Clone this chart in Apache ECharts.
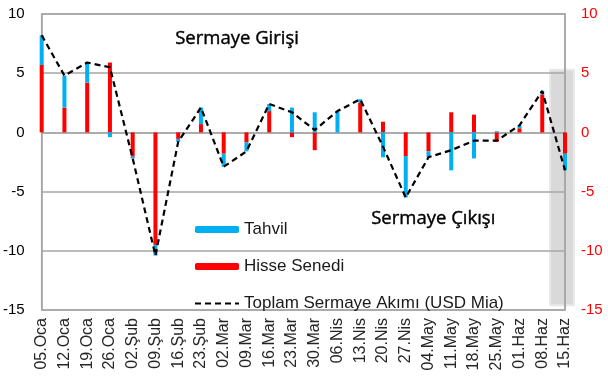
<!DOCTYPE html>
<html>
<head>
<meta charset="utf-8">
<script src="https://cdn.jsdelivr.net/npm/echarts@6/dist/echarts.min.js"></script>
<style>
html,body{margin:0;padding:0;background:#fff;}
#c{width:608px;height:383px;}
</style>
</head>
<body>
<div id="c"></div>
<script>
const categories = ['05.Oca','12.Oca','19.Oca','26.Oca','02.Şub','09.Şub','16.Şub','23.Şub','02.Mar','09.Mar','16.Mar','23.Mar','30.Mar','06.Nis','13.Nis','20.Nis','27.Nis','04.May','11.May','18.May','25.May','01.Haz','08.Haz','15.Haz'];
const hisse = [5.7, 2.1, 4.2, 5.9, -2.05, -9.5, -0.55, 0.7, -1.8, -0.85, 1.8, -0.4, -1.5, 0, 2.5, 0.9, -2.0, -1.6, 1.7, 1.5, -0.8, 0.35, 3.2, -1.8];
const tahvil = [2.5, 2.7, 1.7, -0.4, -0.15, -0.9, -0.25, 1.4, -1.1, -0.75, 0.6, 2.1, 1.7, 1.8, 0.3, -2.1, -3.5, -0.5, -3.2, -2.2, 0.1, 0.25, 0.3, -1.4];
const toplam = [8.2, 4.8, 5.9, 5.5, -2.2, -10.4, -0.8, 2.1, -2.9, -1.6, 2.4, 1.7, 0.2, 1.8, 2.8, -1.2, -5.5, -2.1, -1.5, -0.7, -0.7, 0.6, 3.5, -3.2];
const yTicks = [-15, -10, -5, 0, 5, 10];

const chart = echarts.init(document.getElementById('c'), null, {renderer: 'canvas'});
const gray = '#a6a6a6';
const option = {
  animation: false,
  backgroundColor: '#ffffff',
  grid: {left: 40, right: 43, top: 14, bottom: 73, show: true, borderColor: gray, borderWidth: 1.5, containLabel: false},
  legend: {
    orient: 'vertical', left: 189, top: 216, itemWidth: 44, itemHeight: 7, itemGap: 20,
    data: ['Tahvil', 'Hisse Senedi', {name: 'Toplam Sermaye Akımı (USD Mia)', itemStyle: {opacity: 0}}],
    textStyle: {fontFamily: 'Liberation Sans, Arial', fontSize: 17, color: '#1a1a1a'},
    selectedMode: false
  },
  xAxis: {
    type: 'category', data: categories, boundaryGap: false,
    axisLine: {show: true, lineStyle: {color: gray, width: 1.5}},
    axisTick: {show: false},
    axisLabel: {rotate: 90, interval: 0, margin: 8, fontFamily: 'Liberation Sans, Arial', fontSize: 16, color: '#262626'},
    splitLine: {show: false}
  },
  yAxis: [
    {type: 'value', min: yTicks[0], max: yTicks[yTicks.length-1], interval: 5,
     axisLine: {show: true, lineStyle: {color: gray, width: 1.5}}, axisTick: {show: false},
     axisLabel: {margin: 17, fontFamily: 'Liberation Sans, Arial', fontSize: 15, color: '#000'},
     splitLine: {show: true, lineStyle: {color: gray, width: 1.5}}},
    {type: 'value', min: yTicks[0], max: yTicks[yTicks.length-1], interval: 5, position: 'right',
     axisLine: {show: true, lineStyle: {color: gray, width: 1.5}}, axisTick: {show: false},
     axisLabel: {margin: 16, fontFamily: 'Liberation Sans, Arial', fontSize: 15, color: '#ff0000'},
     splitLine: {show: false}}
  ],
  series: [
    {name: 'Hisse Senedi', type: 'bar', stack: 'a', data: hisse, barWidth: 4, itemStyle: {color: '#ff0000'}, z: 3},
    {name: 'Tahvil', type: 'bar', stack: 'a', data: tahvil, barWidth: 4, itemStyle: {color: '#00b0f0'}, z: 3},
    {name: 'Toplam Sermaye Akımı (USD Mia)', type: 'line', data: toplam, symbol: 'none', z: 4,
     lineStyle: {color: '#000', width: 2.2, type: [6, 4]}, itemStyle: {color: '#000'}}
  ]
};
chart.setOption(option);

// shaded highlight around the last week + annotation texts
const pLast = chart.convertToPixel({xAxisIndex: 0, yAxisIndex: 0}, [categories.length - 1, 5.3]);
const pBot = chart.convertToPixel({xAxisIndex: 0, yAxisIndex: 0}, [categories.length - 1, -14.6]);
chart.setOption({
  graphic: [
    {type: 'rect', z: -10, silent: true,
     shape: {x: pLast[0] - 15, y: pLast[1], width: 24, height: pBot[1] - pLast[1]},
     style: {fill: '#d9d9d9', stroke: '#e9e9e9', lineWidth: 2}},
    {type: 'text', left: 175, top: 29, silent: true,
     style: {text: 'Sermaye Girişi', font: '500 18.5px "Open Sans", Lato, sans-serif', fill: '#000', stroke: '#000', lineWidth: 0.4}},
    {type: 'text', left: 371, top: 209, silent: true,
     style: {text: 'Sermaye Çıkışı', font: '500 18.5px "Open Sans", Lato, sans-serif', fill: '#000', stroke: '#000', lineWidth: 0.4}}
  ]
});
</script>
</body>
</html>
